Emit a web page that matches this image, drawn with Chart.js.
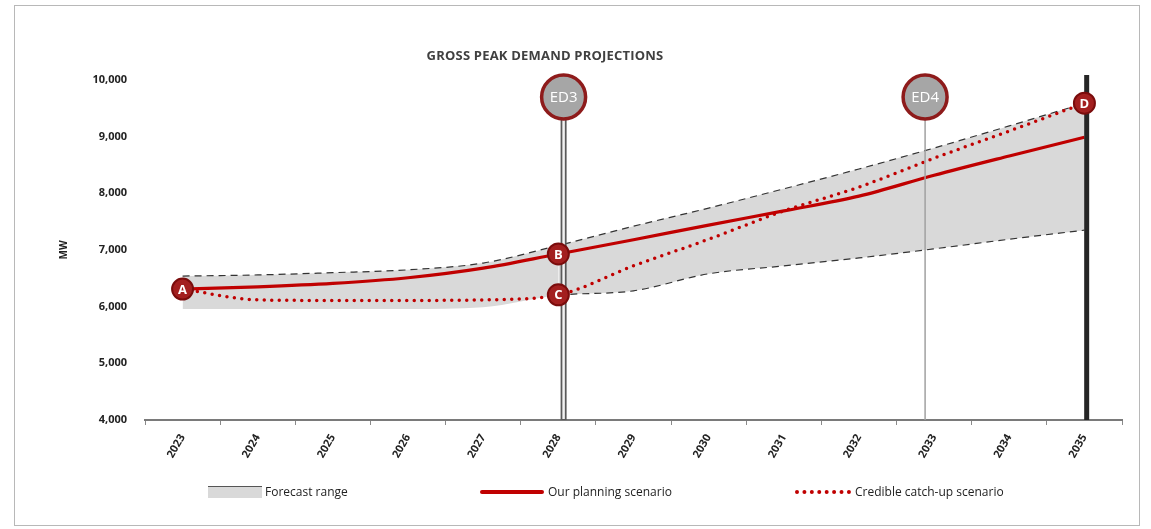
<!DOCTYPE html>
<html>
<head>
<meta charset="utf-8">
<script src="https://cdn.jsdelivr.net/npm/chart.js@4.4.1/dist/chart.umd.min.js"></script>
<style>
  html, body { margin: 0; padding: 0; background: #fff; }
  #wrap { position: relative; width: 1151px; height: 529px; overflow: hidden; font-family: "Open Sans", "Liberation Sans", sans-serif; }
  #frame { position: absolute; left: 14px; top: 5px; width: 1126px; height: 521px; border: 1px solid #b8b8b8; box-sizing: border-box; }
  canvas { position: absolute; left: 0; top: 0; }
  #title { position: absolute; left: 545px; top: 46px; transform: translateX(-50%); font-weight: bold; font-size: 13px; color: #404040; white-space: nowrap; letter-spacing: 0.2px; }
  .leg { position: absolute; top: 484px; height: 16px; font-size: 12px; color: #222; white-space: nowrap; }
  .leg span.t { position: absolute; top: 0; line-height: 16px; }
  .sw { position: absolute; }
</style>
</head>
<body>
<div id="wrap">
  <canvas id="c" width="1151" height="529"></canvas>
  <div id="frame"></div>
  <div id="title">GROSS PEAK DEMAND PROJECTIONS</div>
  <div class="leg" style="left:208px;">
    <div class="sw" style="left:0; top:2px; width:54px; height:11px; background:#d9d9d9; border-top:1.5px solid #555;"></div>
    <span class="t" style="left:57px;">Forecast range</span>
  </div>
  <div class="leg" style="left:480px;">
    <div class="sw" style="left:0; top:6px; width:64px; height:4px; background:#c00000; border-radius:2px;"></div>
    <span class="t" style="left:68px;">Our planning scenario</span>
  </div>
  <div class="leg" style="left:795px;">
    <div class="sw" style="left:0; top:6px; width:56px; height:0; border-top:4px dotted #c00000;"></div>
    <span class="t" style="left:60px;">Credible catch-up scenario</span>
  </div>
</div>
<script>
// ---- data ----
const years = ['2023','2024','2025','2026','2027','2028','2029','2030','2031','2032','2033','2034','2035'];
const planning = [6310, 6350, 6410, 6510, 6680, 6930, 7180, 7440, 7690, 7950, 8320, 8660, 8990];
const catchUp  = [6310, 6120, 6110, 6110, 6120, 6210, 6720, 7190, 7690, 8110, 8620, 9100, 9590];
const rangeHigh = [6540, 6560, 6600, 6650, 6770, 7080, 7420, 7740, 8080, 8430, 8800, 9190, 9590];
const rangeLow  = [5960, 5960, 5960, 5960, 5990, 6200, 6280, 6580, 6720, 6860, 7020, 7190, 7350];
const yTicks = [4000, 5000, 6000, 7000, 8000, 9000, 10000];
const milestones = [{ label: 'ED3', at: 5.07, style: 'double' }, { label: 'ED4', at: 9.88, style: 'thin' }];
const endMarkerAt = 12.03;
const lowEdgeHiddenBefore = 5;
const letterMarkers = [
  { letter: 'A', ds: 2, i: 0 },
  { letter: 'B', ds: 2, i: 5 },
  { letter: 'C', ds: 3, i: 5 },
  { letter: 'D', ds: 3, i: 12 }
];

const RED = '#c00000';

const overlay = {
  id: 'overlay',
  afterDatasetsDraw(chart) {
    const { ctx, chartArea, scales } = chart;
    const x = scales.x;
    const bottom = chartArea.bottom;
    const circleY = chartArea.top + 17;
    const R = 22;
    ctx.save();
    const ex = x.getPixelForValue(endMarkerAt);
    ctx.strokeStyle = '#262626';
    ctx.lineWidth = 5;
    ctx.beginPath(); ctx.moveTo(ex, chartArea.top - 5); ctx.lineTo(ex, bottom); ctx.stroke();
    milestones.forEach(m => {
      const px = x.getPixelForValue(m.at);
      if (m.style === 'double') {
        ctx.strokeStyle = '#5a5a5a'; ctx.lineWidth = 6;
        ctx.beginPath(); ctx.moveTo(px, circleY + R); ctx.lineTo(px, bottom); ctx.stroke();
        ctx.strokeStyle = '#f2f2f2'; ctx.lineWidth = 2.5;
        ctx.beginPath(); ctx.moveTo(px, circleY + R); ctx.lineTo(px, bottom - 1); ctx.stroke();
      } else {
        ctx.strokeStyle = '#a0a0a0'; ctx.lineWidth = 1.5;
        ctx.beginPath(); ctx.moveTo(px, circleY + R); ctx.lineTo(px, bottom); ctx.stroke();
      }
      ctx.beginPath(); ctx.arc(px, circleY, R, 0, Math.PI * 2);
      ctx.fillStyle = '#a6a6a6'; ctx.fill();
      ctx.lineWidth = 3.5; ctx.strokeStyle = '#8e1b1b'; ctx.stroke();
      ctx.fillStyle = '#ffffff';
      ctx.font = '15px "Open Sans", sans-serif';
      ctx.textAlign = 'center'; ctx.textBaseline = 'middle';
      ctx.fillText(m.label, px, circleY + 1);
    });
    letterMarkers.forEach(l => {
      const pt = chart.getDatasetMeta(l.ds).data[l.i];
      ctx.beginPath(); ctx.arc(pt.x, pt.y, 10.5, 0, Math.PI * 2);
      ctx.fillStyle = '#a31f1f'; ctx.fill();
      ctx.lineWidth = 2; ctx.strokeStyle = '#7a0c0c'; ctx.stroke();
      ctx.fillStyle = '#ffffff';
      ctx.font = 'bold 13px "Open Sans", sans-serif';
      ctx.textAlign = 'center'; ctx.textBaseline = 'middle';
      ctx.fillText(l.letter, pt.x, pt.y + 1);
    });
    ctx.restore();
  }
};

new Chart(document.getElementById('c'), {
  type: 'line',
  data: {
    labels: years,
    datasets: [
      { label: 'Forecast range high', data: rangeHigh, borderColor: '#333', borderWidth: 1.2, borderDash: [7, 5],
        backgroundColor: '#d9d9d9', fill: '+1', pointRadius: 0, cubicInterpolationMode: 'monotone', order: 5 },
      { label: 'Forecast range low', data: rangeLow, borderColor: '#333', borderWidth: 1.2, borderDash: [7, 5],
        segment: { borderColor: c => (c.p0DataIndex < lowEdgeHiddenBefore ? 'rgba(0,0,0,0)' : '#333') },
        backgroundColor: '#d9d9d9', fill: false, pointRadius: 0, cubicInterpolationMode: 'monotone', order: 5 },
      { label: 'Our planning scenario', data: planning, borderColor: RED, borderWidth: 3.2, fill: false,
        pointRadius: 0, cubicInterpolationMode: 'monotone', order: 1 },
      { label: 'Credible catch-up scenario', data: catchUp, borderColor: RED, borderWidth: 3.5, borderDash: [0, 7.5],
        borderCapStyle: 'round', fill: false, pointRadius: 0, cubicInterpolationMode: 'monotone', order: 0 }
    ]
  },
  options: {
    responsive: false,
    animation: false,
    events: [],
    layout: { padding: { left: 58, right: 29, top: 80, bottom: 0 } },
    plugins: {
      legend: { display: false },
      title: { display: false },
      tooltip: { enabled: false },
      filler: { drawTime: 'beforeDatasetsDraw' }
    },
    scales: {
      x: {
        type: 'category',
        offset: true,
        grid: { display: true, drawOnChartArea: false, drawTicks: true, tickLength: 5, color: '#8a8a8a', lineWidth: 1, offset: true },
        border: { display: true, color: '#7a7a7a', width: 2 },
        ticks: { minRotation: 60, maxRotation: 60, padding: 7, color: '#222', font: { family: '"Open Sans", sans-serif', size: 11, weight: 'bold' } },
        afterFit: s => { s.height = 109; }
      },
      y: {
        min: 4000, max: 10000,
        afterBuildTicks: s => { s.ticks = yTicks.map(v => ({ value: v })); },
        grid: { display: false, drawTicks: false },
        border: { display: false },
        ticks: { padding: 18, color: '#222', font: { family: '"Open Sans", sans-serif', size: 11, weight: 'bold' },
                 callback: v => v.toLocaleString('en-US') },
        title: { display: true, text: 'MW', color: '#222', padding: { top: 0, bottom: 0 },
                 font: { family: '"Open Sans", sans-serif', size: 10, weight: 'bold' } },
        afterFit: s => { s.width = 87; }
      }
    }
  },
  plugins: [overlay]
});
</script>
</body>
</html>
